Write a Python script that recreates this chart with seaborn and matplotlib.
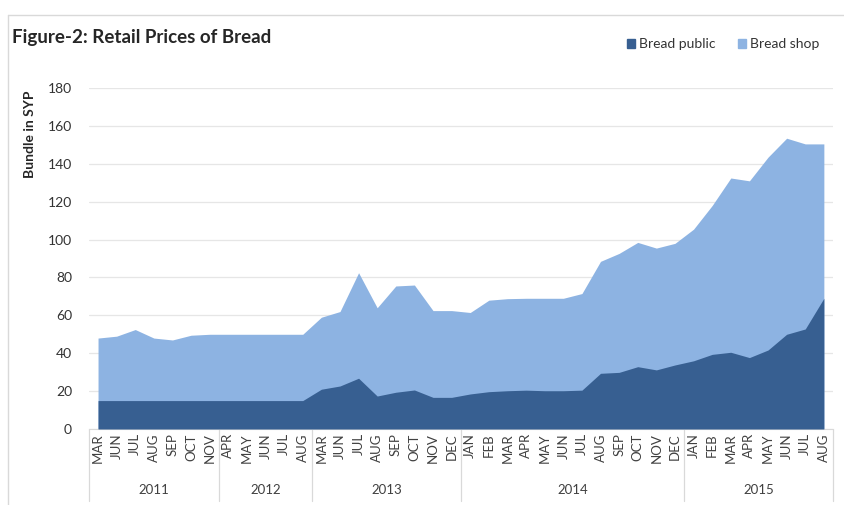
import matplotlib
matplotlib.use("Agg")
import matplotlib.pyplot as plt
import matplotlib.transforms as mtransforms
from matplotlib.patches import Patch
import seaborn as sns
import numpy as np
import pandas as pd

# 数据
months = ['MAR', 'JUN', 'JUL', 'AUG', 'SEP', 'OCT', 'NOV',
          'APR', 'MAY', 'JUN', 'JUL', 'AUG',
          'MAR', 'JUN', 'JUL', 'AUG', 'SEP', 'OCT', 'NOV', 'DEC',
          'JAN', 'FEB', 'MAR', 'APR', 'MAY', 'JUN', 'JUL', 'AUG', 'SEP', 'OCT', 'NOV', 'DEC',
          'JAN', 'FEB', 'MAR', 'APR', 'MAY', 'JUN', 'JUL', 'AUG']
years = ['2011', '2012', '2013', '2014', '2015']
year_counts = [7, 5, 8, 12, 8]

bread_shop = [48, 49, 52.5, 48, 47, 49.5, 50,
              50, 50, 50, 50, 50,
              59, 62, 82.5, 64, 75.5, 76, 62.5, 62.5,
              61.5, 68, 68.8, 69, 69, 69, 71.5, 88.5, 92.7, 98.5, 95.5, 98,
              105.5, 118, 132.5, 131, 143.5, 153.5, 150.5, 150.5]
bread_public = [15, 15, 15, 15, 15, 15, 15,
                15, 15, 15, 15, 15,
                21, 22.7, 26.8, 17.4, 19.4, 20.6, 16.7, 16.7,
                18.5, 19.7, 20.2, 20.5, 20.2, 20.2, 20.5, 29.4, 29.9, 32.9, 31.2, 33.8,
                36, 39.4, 40.5, 37.7, 41.7, 50, 52.8, 69]

df = pd.DataFrame({'pos': np.arange(len(months)), 'month': months,
                   'shop': bread_shop, 'public': bread_public})

sns.set_style("white")
plt.rcParams['font.family'] = ['Lato', 'DejaVu Sans']

dark = '#375F91'
light = '#8DB3E2'

fig = plt.figure(figsize=(8.45, 5.05), dpi=100)
ax = fig.add_axes([0.105, 0.1505, 0.881, 0.6752])

ax.fill_between(df['pos'], 0, df['shop'], color=light, linewidth=0, zorder=2)
ax.fill_between(df['pos'], 0, df['public'], color=dark, linewidth=0, zorder=3)

ax.set_xlim(-0.5, len(months) - 0.5)
ax.set_ylim(0, 180)
ax.set_yticks(range(0, 181, 20))
ax.yaxis.grid(True, color='#E6E6E6', linewidth=0.9, zorder=0)
ax.set_axisbelow(True)
for s in ['top', 'right', 'left']:
    ax.spines[s].set_visible(False)
ax.spines['bottom'].set_color('#D9D9D9')
ax.tick_params(axis='y', length=0, labelsize=10, labelcolor='#333333', pad=12)

ax.set_xticks(df['pos'])
ax.set_xticklabels(df['month'], rotation=90, fontsize=9.5, color='#404040')
ax.tick_params(axis='x', length=0, pad=3)

# 年份分组
trans = mtransforms.blended_transform_factory(ax.transData, ax.transAxes)
start = 0
edges = [-0.5]
for y, n in zip(years, year_counts):
    mid = start + (n - 1) / 2
    ax.text(mid, -0.18, y, transform=trans, ha='center', va='center',
            fontsize=9.5, color='#404040')
    start += n
    edges.append(start - 0.5)
for e in edges:
    ax.plot([e, e], [0, -0.21], transform=trans, color='#D9D9D9',
            linewidth=0.9, clip_on=False)

fig.text(0.036, 0.735, 'Bundle in SYP', rotation=90, fontsize=10,
         fontweight='bold', ha='center', va='center', color='#262626')
fig.text(0.014, 0.925, 'Figure-2: Retail Prices of Bread', fontsize=13.5,
         fontweight='bold', ha='left', va='center', color='#262626')

handles = [Patch(color=dark, label='Bread public'),
           Patch(color=light, label='Bread shop')]
fig.legend(handles=handles, loc='center right', bbox_to_anchor=(0.985, 0.912),
           ncol=2, frameon=False, fontsize=10, handlelength=0.6,
           handleheight=0.6, handletextpad=0.3, columnspacing=1.6,
           labelcolor='#333333')

# 外框
fig.add_artist(plt.Line2D([0.009, 1.0], [0.970, 0.970], color='#D9D9D9',
                          linewidth=1.0))
fig.add_artist(plt.Line2D([0.009, 0.009], [0.0, 0.970], color='#D9D9D9',
                          linewidth=1.0))

fig.savefig('out.png', dpi=100)
